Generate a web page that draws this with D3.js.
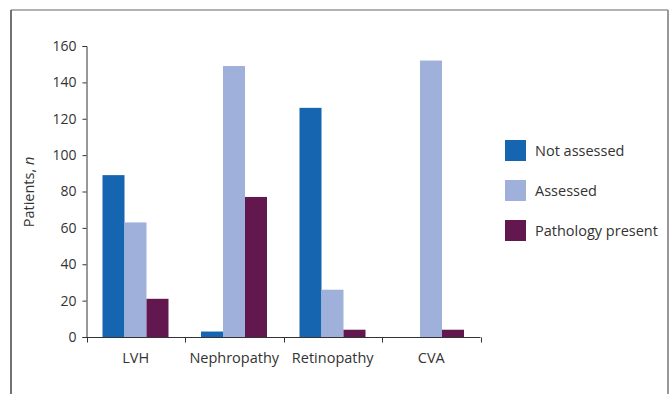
<!DOCTYPE html>
<html>
<head>
<meta charset="utf-8">
<script src="https://cdn.jsdelivr.net/npm/d3@7"></script>
<style>
  body { margin: 0; background: #fff; }
  text { font-family: "Open Sans", "Noto Sans", sans-serif; fill: #333; }
</style>
</head>
<body>
<svg id="chart" width="670" height="394"></svg>
<script>
const categories = ["LVH", "Nephropathy", "Retinopathy", "CVA"];
const seriesNames = ["Not assessed", "Assessed", "Pathology present"];
const notAssessed = [89, 3, 126, 0];
const assessed = [63, 149, 26, 152];
const pathology = [21, 77, 4, 4];
const yTicks = [0, 20, 40, 60, 80, 100, 120, 140, 160];
const colors = ["#1565b0", "#9fb0da", "#62174f"];

const seriesValues = [notAssessed, assessed, pathology];
const rows = categories.map((c, i) => ({
    cat: c,
    vals: seriesNames.map((s, j) => ({ key: s, value: seriesValues[j][i] }))
}));

const svg = d3.select("#chart");

// outer frame
svg.append("line").attr("x1", 11).attr("y1", 10).attr("x2", 668).attr("y2", 10)
    .attr("stroke", "#666").attr("stroke-width", 1.2);
svg.append("line").attr("x1", 11).attr("y1", 10).attr("x2", 11).attr("y2", 394)
    .attr("stroke", "#444").attr("stroke-width", 1.5);
svg.append("line").attr("x1", 668).attr("y1", 10).attr("x2", 668).attr("y2", 394)
    .attr("stroke", "#999").attr("stroke-width", 2);

const x0 = d3.scaleBand().domain(categories).range([86.5, 480.5]).paddingInner(0).paddingOuter(0);
const x1 = d3.scaleBand().domain(seriesNames).range([16, x0.bandwidth() - 16.5]).padding(0);
const y = d3.scaleLinear().domain([0, 160]).range([337, 46]);

const g = svg.append("g");

g.selectAll(".grp")
    .data(rows)
    .enter().append("g")
    .attr("class", "grp")
    .attr("transform", d => `translate(${x0(d.cat)},0)`)
    .selectAll("rect")
    .data(d => d.vals)
    .enter().append("rect")
    .attr("x", d => x1(d.key))
    .attr("width", x1.bandwidth())
    .attr("y", d => y(d.value))
    .attr("height", d => y(0) - y(d.value))
    .attr("fill", (d, i) => colors[i]);

// y axis
const yAxis = g.append("g")
    .attr("transform", "translate(86.5,0)")
    .call(d3.axisLeft(y).tickValues(yTicks).tickSize(4).tickPadding(6));
yAxis.select(".domain").attr("stroke", "#333");
yAxis.selectAll(".tick line").attr("stroke", "#333");
yAxis.selectAll("text").attr("font-size", 14).style("fill", "#333");

// x axis with ticks at band boundaries
const xAxisG = g.append("g").attr("transform", "translate(0,337.5)");
xAxisG.append("line").attr("x1", 86.5).attr("x2", 480.5).attr("stroke", "#333");
const bounds = categories.map(c => x0(c)).concat([x0.range()[1]]);
xAxisG.selectAll(".xt")
    .data(bounds)
    .enter().append("line")
    .attr("class", "xt")
    .attr("x1", d => Math.round(d) + 0.5).attr("x2", d => Math.round(d) + 0.5)
    .attr("y1", 0).attr("y2", 5)
    .attr("stroke", "#333");
xAxisG.selectAll(".xl")
    .data(categories)
    .enter().append("text")
    .attr("class", "xl")
    .attr("x", d => x0(d) + x0.bandwidth() / 2)
    .attr("y", 25)
    .attr("text-anchor", "middle")
    .attr("font-size", 14.5)
    .text(d => d);

// y label
const yl = svg.append("text")
    .attr("transform", "translate(34,192) rotate(-90)")
    .attr("text-anchor", "middle")
    .attr("font-size", 14.5);
yl.append("tspan").text("Patients, ");
yl.append("tspan").attr("font-style", "italic").text("n");

// legend
const legend = svg.append("g").attr("transform", "translate(505,140)");
const item = legend.selectAll(".li")
    .data(seriesNames)
    .enter().append("g")
    .attr("class", "li")
    .attr("transform", (d, i) => `translate(0,${i * 40})`);
item.append("rect").attr("width", 21).attr("height", 21).attr("fill", (d, i) => colors[i]);
item.append("text").attr("x", 30).attr("y", 16).attr("font-size", 14.5).text(d => d);
</script>
</body>
</html>
